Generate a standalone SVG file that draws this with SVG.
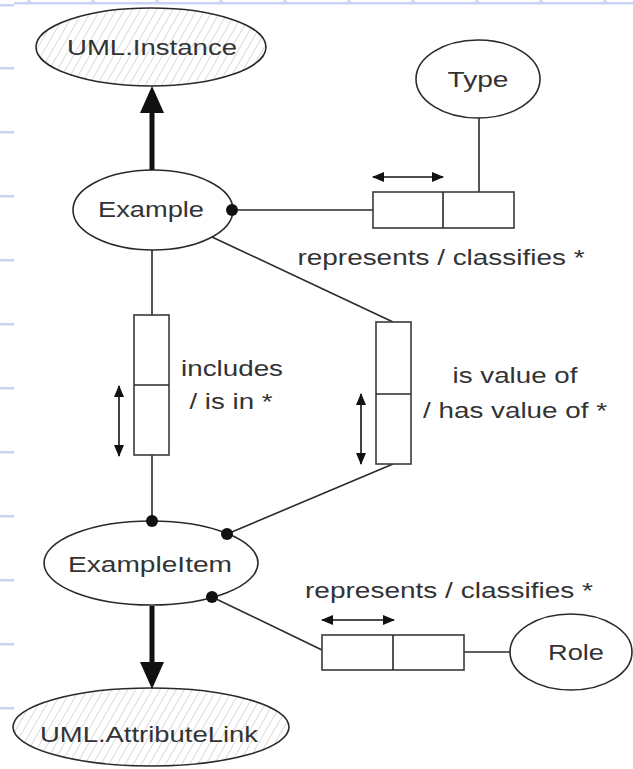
<svg xmlns="http://www.w3.org/2000/svg" width="633" height="769" viewBox="0 0 633 769">
  <defs>
    <style>
      .grid { fill: #c9d4f5; }
      .node { fill: #ffffff; stroke: #2a2a2a; stroke-width: 1.6; }
      .hatched { fill: url(#hatch); stroke: #2a2a2a; stroke-width: 1.6; }
      .label { font-family: "Liberation Sans", Arial, sans-serif; font-size: 22.5px; fill: #333333; }
      .mid { text-anchor: middle; }
      .wire { stroke: #2a2a2a; stroke-width: 1.6; fill: none; }
      .box { fill: #ffffff; stroke: #3a3a3a; stroke-width: 1.6; }
      .thick { stroke: #111111; stroke-width: 5; fill: none; }
      .head { fill: #111111; }
      .dot { fill: #111111; }
      .dbl { stroke: #111111; stroke-width: 1.6; fill: none; marker-start: url(#tip); marker-end: url(#tip); }
    </style>
    <pattern id="hatch" width="7" height="7" patternUnits="userSpaceOnUse" patternTransform="rotate(30)">
      <rect width="7" height="7" fill="#ffffff"/>
      <line x1="0" y1="0" x2="0" y2="7" stroke="#c4c4c4" stroke-width="1.2"/>
    </pattern>
    <marker id="tip" viewBox="0 0 12 10" refX="11" refY="5" markerWidth="12" markerHeight="10" markerUnits="userSpaceOnUse" orient="auto-start-reverse">
      <path d="M0,0 L12,5 L0,10 Z" fill="#111111"/>
    </marker>
  </defs>

  <rect width="633" height="769" fill="#ffffff"/>

  <!-- page ruler marks -->
  <g id="ruler">
    <rect class="grid" x="14" y="2" width="619" height="2.5"/>
    <rect class="grid" x="27.5" y="0" width="3" height="4"/>
    <rect class="grid" x="91.5" y="0" width="3" height="4"/>
    <rect class="grid" x="155.5" y="0" width="3" height="4"/>
    <rect class="grid" x="219.5" y="0" width="3" height="4"/>
    <rect class="grid" x="283.5" y="0" width="3" height="4"/>
    <rect class="grid" x="347.5" y="0" width="3" height="4"/>
    <rect class="grid" x="411.5" y="0" width="3" height="4"/>
    <rect class="grid" x="475.5" y="0" width="3" height="4"/>
    <rect class="grid" x="539.5" y="0" width="3" height="4"/>
    <rect class="grid" x="603.5" y="0" width="3" height="4"/>
    <rect class="grid" x="0" y="4" width="14" height="2.5"/>
    <rect class="grid" x="0" y="67" width="14" height="2.5"/>
    <rect class="grid" x="0" y="131" width="14" height="2.5"/>
    <rect class="grid" x="0" y="195" width="14" height="2.5"/>
    <rect class="grid" x="0" y="259" width="14" height="2.5"/>
    <rect class="grid" x="0" y="323" width="14" height="2.5"/>
    <rect class="grid" x="0" y="387" width="14" height="2.5"/>
    <rect class="grid" x="0" y="451" width="14" height="2.5"/>
    <rect class="grid" x="0" y="515" width="14" height="2.5"/>
    <rect class="grid" x="0" y="579" width="14" height="2.5"/>
    <rect class="grid" x="0" y="643" width="14" height="2.5"/>
    <rect class="grid" x="0" y="707" width="14" height="2.5"/>
  </g>

  <!-- nodes -->
  <g id="uml-instance">
    <ellipse class="hatched" cx="151" cy="47" rx="115" ry="39"/>
    <text class="label mid" x="152" y="55" textLength="170" lengthAdjust="spacingAndGlyphs">UML.Instance</text>
  </g>
  <g id="type">
    <ellipse class="node" cx="478" cy="79" rx="62" ry="39"/>
    <text class="label mid" x="478" y="87" textLength="61" lengthAdjust="spacingAndGlyphs">Type</text>
  </g>
  <g id="example">
    <ellipse class="node" cx="153" cy="210" rx="80" ry="40"/>
    <text class="label mid" x="151" y="217" textLength="106" lengthAdjust="spacingAndGlyphs">Example</text>
  </g>
  <g id="example-item">
    <ellipse class="node" cx="151" cy="563" rx="107" ry="42"/>
    <text class="label mid" x="150" y="572" textLength="164" lengthAdjust="spacingAndGlyphs">ExampleItem</text>
  </g>
  <g id="role">
    <ellipse class="node" cx="571" cy="652" rx="61" ry="38"/>
    <text class="label mid" x="576" y="660" textLength="56" lengthAdjust="spacingAndGlyphs">Role</text>
  </g>
  <g id="uml-attribute-link">
    <ellipse class="hatched" cx="151" cy="727" rx="138" ry="39"/>
    <text class="label mid" x="149" y="742" textLength="218" lengthAdjust="spacingAndGlyphs">UML.AttributeLink</text>
  </g>

  <!-- connectors -->
  <g id="connectors">
    <!-- Example generalises to UML.Instance -->
    <line class="thick" x1="152" y1="170" x2="152" y2="110"/>
    <path class="head" d="M152,86 L164,113 L140,113 Z"/>
    <!-- ExampleItem generalises to UML.AttributeLink -->
    <line class="thick" x1="152" y1="606" x2="152" y2="666"/>
    <path class="head" d="M152,689 L164,662 L140,662 Z"/>

    <!-- Example - Type association -->
    <line class="wire" x1="232" y1="210" x2="373" y2="210"/>
    <line class="wire" x1="479" y1="118" x2="479" y2="192"/>
    <rect class="box" x="373" y="192" width="141" height="36"/>
    <line class="wire" x1="443" y1="192" x2="443" y2="228"/>
    <line class="dbl" x1="373" y1="177" x2="443" y2="177"/>

    <!-- Example - ExampleItem (includes) -->
    <line class="wire" x1="152" y1="250" x2="152" y2="315"/>
    <line class="wire" x1="152" y1="455" x2="152" y2="521"/>
    <rect class="box" x="134" y="315" width="35" height="140"/>
    <line class="wire" x1="134" y1="385" x2="169" y2="385"/>
    <line class="dbl" x1="119" y1="386" x2="119" y2="456"/>

    <!-- Example - ExampleItem (value) -->
    <line class="wire" x1="212" y1="237" x2="393" y2="322"/>
    <line class="wire" x1="393" y1="464" x2="227" y2="534"/>
    <rect class="box" x="376" y="322" width="35" height="142"/>
    <line class="wire" x1="376" y1="394" x2="411" y2="394"/>
    <line class="dbl" x1="361" y1="394" x2="361" y2="464"/>

    <!-- ExampleItem - Role association -->
    <line class="wire" x1="212" y1="597" x2="322" y2="650"/>
    <line class="wire" x1="464" y1="652" x2="510" y2="652"/>
    <rect class="box" x="322" y="635" width="142" height="35"/>
    <line class="wire" x1="393" y1="635" x2="393" y2="670"/>
    <line class="dbl" x1="322" y1="620" x2="394" y2="620"/>

    <!-- association ends -->
    <circle class="dot" cx="232" cy="210" r="6"/>
    <circle class="dot" cx="152" cy="521" r="6"/>
    <circle class="dot" cx="227" cy="534" r="6"/>
    <circle class="dot" cx="212" cy="597" r="6"/>
  </g>

  <!-- association labels -->
  <g id="labels">
    <text class="label mid" x="441" y="265" textLength="287" lengthAdjust="spacingAndGlyphs">represents / classifies *</text>
    <text class="label mid" x="232" y="376" textLength="102" lengthAdjust="spacingAndGlyphs">includes</text>
    <text class="label mid" x="231" y="409" textLength="83" lengthAdjust="spacingAndGlyphs">/ is in *</text>
    <text class="label mid" x="515" y="383" textLength="125" lengthAdjust="spacingAndGlyphs">is value of</text>
    <text class="label mid" x="515" y="418" textLength="184" lengthAdjust="spacingAndGlyphs">/ has value of *</text>
    <text class="label mid" x="449" y="598" textLength="288" lengthAdjust="spacingAndGlyphs">represents / classifies *</text>
  </g>
</svg>
